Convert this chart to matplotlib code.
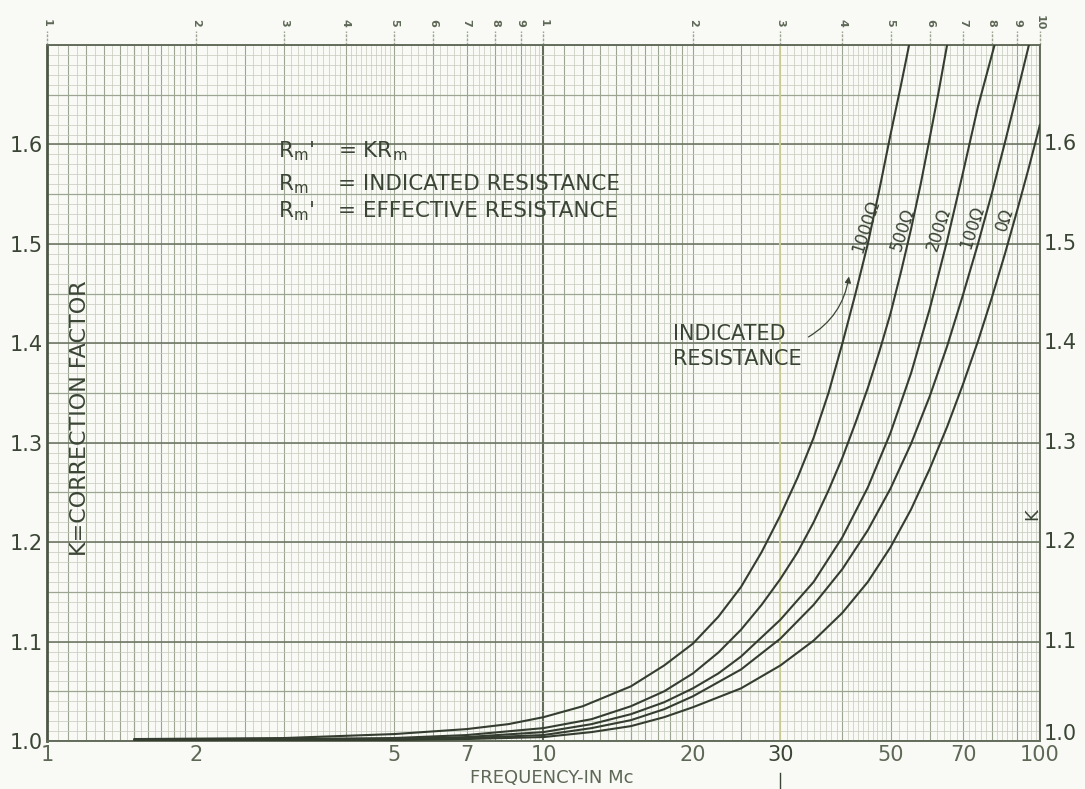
import numpy as np
import matplotlib
matplotlib.use("Agg")
import matplotlib.pyplot as plt

# ---------------- data ----------------
f_1000 = [1.5, 3, 5, 7, 8.5, 10, 12, 15, 17.5, 20, 22.5, 25, 27.5, 30, 32.5, 35, 37.5, 40, 42.5, 45, 47.5, 50, 52.5, 54.5]
k_1000 = [1.002, 1.003, 1.007, 1.012, 1.017, 1.024, 1.035, 1.055, 1.076, 1.098, 1.125, 1.155, 1.190, 1.227,
          1.265, 1.305, 1.350, 1.400, 1.450, 1.500, 1.555, 1.610, 1.660, 1.700]

f_500 = [1.5, 3, 5, 7, 10, 12.5, 15, 17.5, 20, 22.5, 25, 27.5, 30, 32.5, 35, 37.5, 40, 42.5, 45, 47.5, 50,
         52.5, 55, 57.5, 60, 62.5, 65]
k_500 = [1.002, 1.002, 1.003, 1.006, 1.013, 1.022, 1.035, 1.050, 1.068, 1.089, 1.112, 1.137, 1.163, 1.190,
         1.220, 1.252, 1.285, 1.320, 1.355, 1.392, 1.430, 1.472, 1.515, 1.560, 1.607, 1.653, 1.700]

f_200 = [1.5, 3, 5, 7, 10, 12.5, 15, 17.5, 20, 22.5, 25, 30, 35, 40, 45, 50, 55, 60, 65, 70, 75, 81]
k_200 = [1.0015, 1.0015, 1.002, 1.004, 1.009, 1.017, 1.027, 1.039, 1.053, 1.068, 1.085, 1.122, 1.160, 1.205,
         1.255, 1.310, 1.370, 1.435, 1.503, 1.572, 1.638, 1.700]

f_100 = [1.5, 3, 5, 7, 10, 12.5, 15, 17.5, 20, 25, 30, 35, 40, 45, 50, 55, 60, 65, 70, 75, 80, 85, 90, 95]
k_100 = [1.001, 1.001, 1.0015, 1.003, 1.006, 1.013, 1.021, 1.032, 1.045, 1.072, 1.103, 1.137, 1.173, 1.212,
         1.254, 1.299, 1.347, 1.397, 1.449, 1.500, 1.551, 1.602, 1.652, 1.700]

f_0 = [1.5, 3, 5, 7, 10, 12.5, 15, 17.5, 20, 25, 30, 35, 40, 45, 50, 55, 60, 65, 70, 75, 80, 85, 90, 95, 100]
k_0 = [1.001, 1.001, 1.001, 1.002, 1.004, 1.009, 1.015, 1.024, 1.034, 1.053, 1.076, 1.101, 1.129, 1.160,
       1.195, 1.233, 1.274, 1.316, 1.359, 1.402, 1.446, 1.490, 1.534, 1.577, 1.620]

curve_labels = ["1000Ω", "500Ω", "200Ω", "100Ω", "0Ω"]
label_f = [44.6, 52.9, 62.5, 73.0, 85.0]
label_k = [1.518, 1.515, 1.515, 1.517, 1.525]

bottom_ticks = [1, 2, 5, 7, 10, 20, 30, 50, 70, 100]
bottom_labels = ["1", "2", "5", "7", "10", "20", "30", "50", "70", "100"]
y_ticks = [1.0, 1.1, 1.2, 1.3, 1.4, 1.5, 1.6]
y_labels = ["1.0", "1.1", "1.2", "1.3", "1.4", "1.5", "1.6"]
top_marks = [1, 2, 3, 4, 5, 6, 7, 8, 9, 10, 20, 30, 40, 50, 60, 70, 80, 90, 100]
top_labels = ["1", "2", "3", "4", "5", "6", "7", "8", "9", "1", "2", "3", "4", "5", "6", "7", "8", "9", "10"]

# ---------------- style ----------------
BG = "#f9faf6"
INK = "#3b4535"
SOFT = "#5e6856"
FINE = "#c4cabb"
MED = "#9ca492"
MAJ = "#646d5b"

plt.rcParams["font.family"] = ["DejaVu Sans"]
plt.rcParams["mathtext.default"] = "regular"

fig = plt.figure(figsize=(10.85, 7.89), dpi=100)
fig.patch.set_facecolor(BG)
ax = fig.add_axes([0.0433, 0.0608, 0.9152, 0.8821])
ax.set_facecolor(BG)
ax.set_xscale("log")
ax.set_xlim(1, 100)
ax.set_ylim(1.0, 1.70)

# ---------------- graph-paper grid ----------------
fine_x, med_x = [], []
for dec in (1, 10):
    fine_x += list(np.arange(1, 2, 0.05) * dec) + list(np.arange(2, 5, 0.1) * dec) + list(np.arange(5, 10, 0.2) * dec)
    med_x += list(np.arange(1.1, 2, 0.1) * dec) + list(np.arange(2, 10, 1.0) * dec) + [1.5 * dec, 2.5 * dec]
ax.vlines(fine_x, 1.0, 1.70, color=FINE, lw=0.5, zorder=1)
ax.vlines(med_x, 1.0, 1.70, color=MED, lw=0.8, zorder=1)
ax.vlines([1, 10, 100], 1.0, 1.70, color=MAJ, lw=1.5, zorder=1)
ax.vlines([30], 1.0, 1.70, color="#cfcf95", lw=1.3, zorder=1.5)

hy = np.round(np.arange(1.0, 1.7001, 0.01), 3)
ax.hlines(hy, 1, 100, color=FINE, lw=0.5, zorder=1)
ax.hlines(np.round(np.arange(1.05, 1.7, 0.1), 3), 1, 100, color=MED, lw=0.9, zorder=1)
ax.hlines(np.round(np.arange(1.0, 1.71, 0.1), 3), 1, 100, color=MAJ, lw=1.1, zorder=1)

for s in ax.spines.values():
    s.set_color(MAJ)
    s.set_linewidth(1.4)
ax.spines["left"].set_linewidth(2.0)
ax.spines["left"].set_color("#4e5746")

# top scale marks
for v, t in zip(top_marks, top_labels):
    ax.plot([v, v], [1.70, 1.714], color=MED, lw=1.0, ls=(0, (2, 1)), clip_on=False)
    ax.text(v, 1.722, t, rotation=-90, ha="center", va="center", fontsize=8,
            fontweight="bold", color=SOFT)

# ---------------- curves ----------------
series = [(f_1000, k_1000), (f_500, k_500), (f_200, k_200), (f_100, k_100), (f_0, k_0)]
for fx, ky in series:
    ax.plot(fx, ky, color="#353d30", lw=1.5, zorder=5, solid_capstyle="round", solid_joinstyle="round")

for lab, lf, lk in zip(curve_labels, label_f, label_k):
    ax.text(lf, lk, lab, rotation=72, ha="center", va="center", fontsize=12, color=INK, zorder=6)

ax.annotate("", xy=(41.3, 1.470), xytext=(33.8, 1.405),
            arrowprops=dict(arrowstyle="-|>", color=INK, lw=0.9, mutation_scale=9,
                            connectionstyle="arc3,rad=0.25"), zorder=6)
ax.text(18.2, 1.409, "INDICATED", ha="left", va="center", fontsize=15, color=INK)
ax.text(18.2, 1.384, "RESISTANCE", ha="left", va="center", fontsize=15, color=INK)

# formula block
ax.text(2.92, 1.593, "R$_m$'", ha="left", va="center", fontsize=15.5, color=INK)
ax.text(2.92, 1.560, "R$_m$", ha="left", va="center", fontsize=15.5, color=INK)
ax.text(2.92, 1.533, "R$_m$'", ha="left", va="center", fontsize=15.5, color=INK)
ax.text(3.86, 1.593, "= KR$_m$", ha="left", va="center", fontsize=15.5, color=INK)
ax.text(3.86, 1.560, "= INDICATED RESISTANCE", ha="left", va="center", fontsize=15.5, color=INK)
ax.text(3.86, 1.533, "= EFFECTIVE RESISTANCE", ha="left", va="center", fontsize=15.5, color=INK)

# ---------------- axes text ----------------
ax.set_xticks(bottom_ticks)
ax.set_xticklabels(bottom_labels, fontsize=15, color=SOFT)
ax.xaxis.set_minor_locator(matplotlib.ticker.NullLocator())
ax.set_yticks(y_ticks)
ax.set_yticklabels(y_labels, fontsize=15, color=INK)
ax.tick_params(axis="both", length=0, pad=3)
for lbl in ax.get_xticklabels():
    if lbl.get_text() == "30":
        lbl.set_color(INK)

ytr = ax.get_yaxis_transform()
for v, t in zip(y_ticks, y_labels):
    yy = v + 0.007 if v == 1.0 else v
    ax.text(1.004, yy, t, transform=ytr, ha="left", va="center", fontsize=15, color=INK, clip_on=False)

ax.plot([30, 30], [0.968, 0.950], color=INK, lw=1.0, clip_on=False)

ax.text(1.165, 1.325, "K=CORRECTION FACTOR", rotation=90, ha="center", va="center",
        fontsize=16, color=INK)
ax.text(96.5, 1.228, "K", rotation=90, ha="center", va="center", fontsize=13, color=INK)
ax.text(0.508, -0.053, "FREQUENCY-IN Mc", transform=ax.transAxes, ha="center", va="center",
        fontsize=13, color=SOFT)

fig.savefig("out.png", dpi=100, facecolor=BG)
